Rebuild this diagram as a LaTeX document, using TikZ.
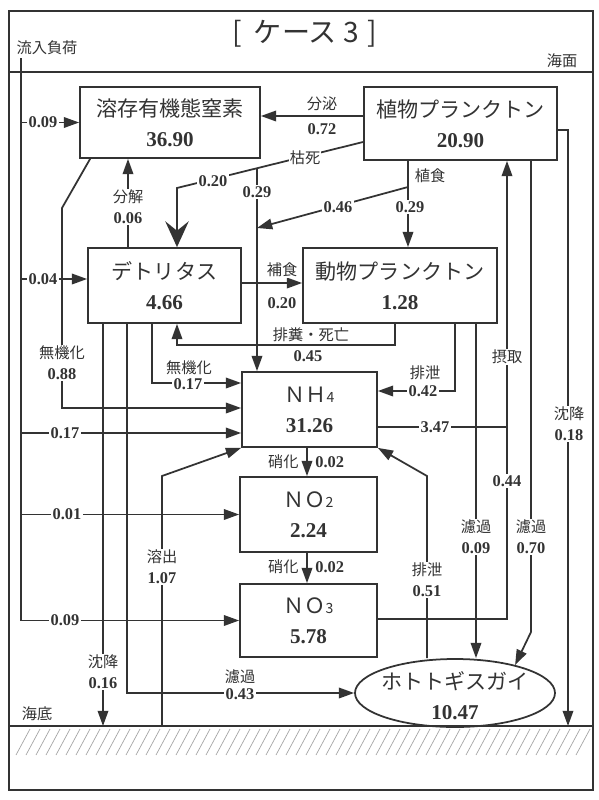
\documentclass[tikz,border=0pt]{standalone}
\usepackage{fontspec}
\setmainfont{Liberation Serif}
\newfontfamily\cjk{Noto Sans CJK JP}
\usetikzlibrary{arrows.meta,shapes.geometric,calc}
\definecolor{ink}{gray}{0.2}
\newcommand{\boxtext}[2]{{\cjk #1}\\{\rmfamily\bfseries #2}}
\newcommand{\fluxval}[1]{{\rmfamily\bfseries\fontsize{14}{18}\selectfont #1}}
\tikzset{
    box/.style={draw=ink, line width=1.5pt, align=center, inner sep=0pt, text=ink, font=\fontsize{18}{25.5}\selectfont},
    flow/.style={draw=ink, line width=1.5pt},
    arr/.style={flow, -{Triangle[length=13pt,width=9pt]}},
    bigarr/.style={flow, -{Stealth[length=22pt,width=20pt,inset=8pt]}},
    lbl/.style={font=\cjk\fontsize{13}{18}\selectfont, text=ink, fill=white, inner sep=1pt, align=center},
    hatch/.style={draw=gray!70, line width=0.6pt},
}
\begin{document}
\begin{tikzpicture}
    \begin{scope}[x=0.3mm, y=-0.3mm]
        \useasboundingbox (0,0) rectangle (599,800);
        %frame, sea surface, sea bottom
        \draw[flow] (9,11) rectangle (593,790);
        \draw[flow] (9,72) -- (593,72);
        \draw[flow] (9,726) -- (593,726);
        \foreach \i in {0,...,56}
            \draw[hatch] (16+10*\i,755) -- (30+10*\i,729);
        \node[text=ink, font=\cjk\fontsize{24}{26}\selectfont] (title) at (305,34) {[\hspace{10pt}ケース\hspace{6pt}3\hspace{7pt}]};
        \node[lbl] (l-inflow) at (47,48) {流入負荷};
        \node[lbl] (l-surface) at (562,61) {海面};
        \node[lbl] (l-bottom) at (37,714) {海底};

        %boxes
        \node[box, minimum width=5.4cm, minimum height=2.13cm] (don) at (170,122.5) {\boxtext{溶存有機態窒素}{36.90}};
        \node[box, minimum width=5.79cm, minimum height=2.19cm] (phyto) at (460.5,123.5) {\boxtext{植物プランクトン}{20.90}};
        \node[box, minimum width=4.59cm, minimum height=2.25cm] (det) at (164.5,285.5) {\boxtext{デトリタス}{4.66}};
        \node[box, minimum width=5.82cm, minimum height=2.25cm] (zoo) at (400,285.5) {\boxtext{動物プランクトン}{1.28}};
        \node[box, minimum width=4.05cm, minimum height=2.25cm] (nh4) at (309.5,409.5) {\boxtext{ＮＨ{\fontsize{12}{12}\selectfont 4}}{31.26}};
        \node[box, minimum width=4.11cm, minimum height=2.25cm] (no2) at (308.5,514.5) {\boxtext{ＮＯ{\fontsize{12}{12}\selectfont 2}}{2.24}};
        \node[box, minimum width=4.11cm, minimum height=2.19cm] (no3) at (308.5,620.5) {\boxtext{ＮＯ{\fontsize{12}{12}\selectfont 3}}{5.78}};
        \node[box, ellipse, minimum width=6cm, minimum height=2.04cm] (clam) at (455,693) {};
        \node[box, draw=none] (clam-text) at (455,696) {\boxtext{ホトトギスガイ}{10.47}};

        %inflow
        \draw[arr] (21,58) -- (21,620.5) -- (no3.west);
        \draw[arr] (21,122.5) -- (don.west);
        \draw[arr] (21,279) -- (det.west |- 0,279);
        \draw[arr] (21,433) -- (nh4.west |- 0,433);
        \draw[arr] (21,514.5) -- (no2.west);

        %phyto -> DON, detritus, NH4
        \draw[arr] (phyto.west |- 0,116) -- (don.east |- 0,116);
        \draw[bigarr] (phyto.west |- 0,142) -- (177,188) -- (det.north -| 177,0);
        \draw[arr] (257,168) -- (nh4.north -| 257,0);
        %grazing
        \draw[arr] (phyto.south -| 408,0) -- (zoo.north -| 408,0);
        \draw[arr] (408,187) -- (257,228);

        %detritus
        \draw[arr] (det.north -| 128,0) -- (don.south -| 128,0);
        \draw[arr] (det.east |- 0,283) -- (zoo.west |- 0,283);
        \draw[arr] (zoo.south -| 395,0) -- (395,345) -- (177,345) -- (det.south -| 177,0);
        \draw[arr] (det.south -| 152,0) -- (152,383) -- (nh4.west |- 0,383);
        \draw[arr] (det.south -| 103,0) -- (103,726);
        \draw[arr] (det.south -| 127,0) -- (127,693) -- (clam.west);

        %DON -> NH4
        \draw[arr] ($(don.south west)+(11,0)$) -- (62,208) -- (62,408) -- (nh4.west |- 0,408);

        %bottom release, nitrification
        \draw[arr] (162,726) -- (162,476) -- (nh4.south west);
        \draw[arr] (nh4.south -| 307,0) -- (no2.north -| 307,0);
        \draw[arr] (no2.south -| 307,0) -- (no3.north -| 307,0);

        %zoo -> NH4, clam
        \draw[arr] (zoo.south -| 455,0) -- (455,391) -- (nh4.east |- 0,391);
        \draw[arr] (zoo.south -| 476,0) -- (clam.north -| 476,0);

        %uptake
        \draw[arr] (nh4.east |- 0,427) -- (507,427) -- (phyto.south -| 507,0);
        \draw[flow] (no3.east |- 0,619) -- (507,619) -- (507,427);

        %phyto -> clam, bottom
        \draw[arr] (phyto.south -| 531,0) -- (531,632) -- (clam.25);
        \draw[arr] (phyto.east |- 0,130) -- (568,130) -- (568,726);

        %clam -> NH4
        \draw[arr] (clam.north -| 427,0) -- (427,476) -- (nh4.south east);

        %labels
        \node[lbl] (l-in1) at (43,122.5) {\fluxval{0.09}};
        \node[lbl] (l-in2) at (43,279) {\fluxval{0.04}};
        \node[lbl] (l-in3) at (65,433) {\fluxval{0.17}};
        \node[lbl] (l-in4) at (67,514.5) {\fluxval{0.01}};
        \node[lbl] (l-in5) at (65,620.5) {\fluxval{0.09}};
        \node[lbl] (l-secr) at (322,104) {分泌};
        \node[lbl] (l-secr-v) at (322,129) {\fluxval{0.72}};
        \node[lbl] (l-death) at (305,158) {枯死};
        \node[lbl] (l-death-v) at (213,181) {\fluxval{0.20}};
        \node[lbl] (l-death-nh4) at (257,192) {\fluxval{0.29}};
        \node[lbl] (l-graz) at (430,176) {植食};
        \node[lbl] (l-graz-v) at (410,207) {\fluxval{0.29}};
        \node[lbl] (l-graz-nh4) at (338,207) {\fluxval{0.46}};
        \node[lbl] (l-decomp) at (128,207) {分解\\\fluxval{0.06}};
        \node[lbl] (l-min-don) at (62,363) {無機化\\\fluxval{0.88}};
        \node[lbl] (l-pred) at (282,270) {補食};
        \node[lbl] (l-pred-v) at (282,303) {\fluxval{0.20}};
        \node[lbl, anchor=south] (l-feces) at (311,343.5) {排糞・死亡};
        \node[lbl, anchor=north] (l-feces-v) at (308,349) {\fluxval{0.45}};
        \node[lbl] (l-min-det) at (189,368) {無機化};
        \node[lbl] (l-min-det-v) at (188,384) {\fluxval{0.17}};
        \node[lbl] (l-excr) at (425,373) {排泄};
        \node[lbl] (l-excr-v) at (423,391) {\fluxval{0.42}};
        \node[lbl] (l-upt-nh4) at (435,427) {\fluxval{3.47}};
        \node[lbl] (l-upt) at (507,357) {摂取};
        \node[lbl] (l-upt-no3) at (507,481) {\fluxval{0.44}};
        \node[lbl, anchor=east] (l-nitr1) at (300,462) {硝化};
        \node[lbl, anchor=west] (l-nitr1-v) at (314,462) {\fluxval{0.02}};
        \node[lbl, anchor=east] (l-nitr2) at (300,567) {硝化};
        \node[lbl, anchor=west] (l-nitr2-v) at (314,567) {\fluxval{0.02}};
        \node[lbl] (l-release) at (162,567) {溶出\\\fluxval{1.07}};
        \node[lbl] (l-excr-clam) at (427,580) {排泄\\\fluxval{0.51}};
        \node[lbl] (l-filt-zoo) at (476,537) {濾過\\\fluxval{0.09}};
        \node[lbl] (l-filt-phyto) at (531,537) {濾過\\\fluxval{0.70}};
        \node[lbl] (l-sink-phyto) at (569,424) {沈降\\\fluxval{0.18}};
        \node[lbl] (l-sink-det) at (103,672) {沈降\\\fluxval{0.16}};
        \node[lbl] (l-filt-det) at (240,677) {濾過};
        \node[lbl] (l-filt-det-v) at (240,694) {\fluxval{0.43}};
    \end{scope}
\end{tikzpicture}
\end{document}
